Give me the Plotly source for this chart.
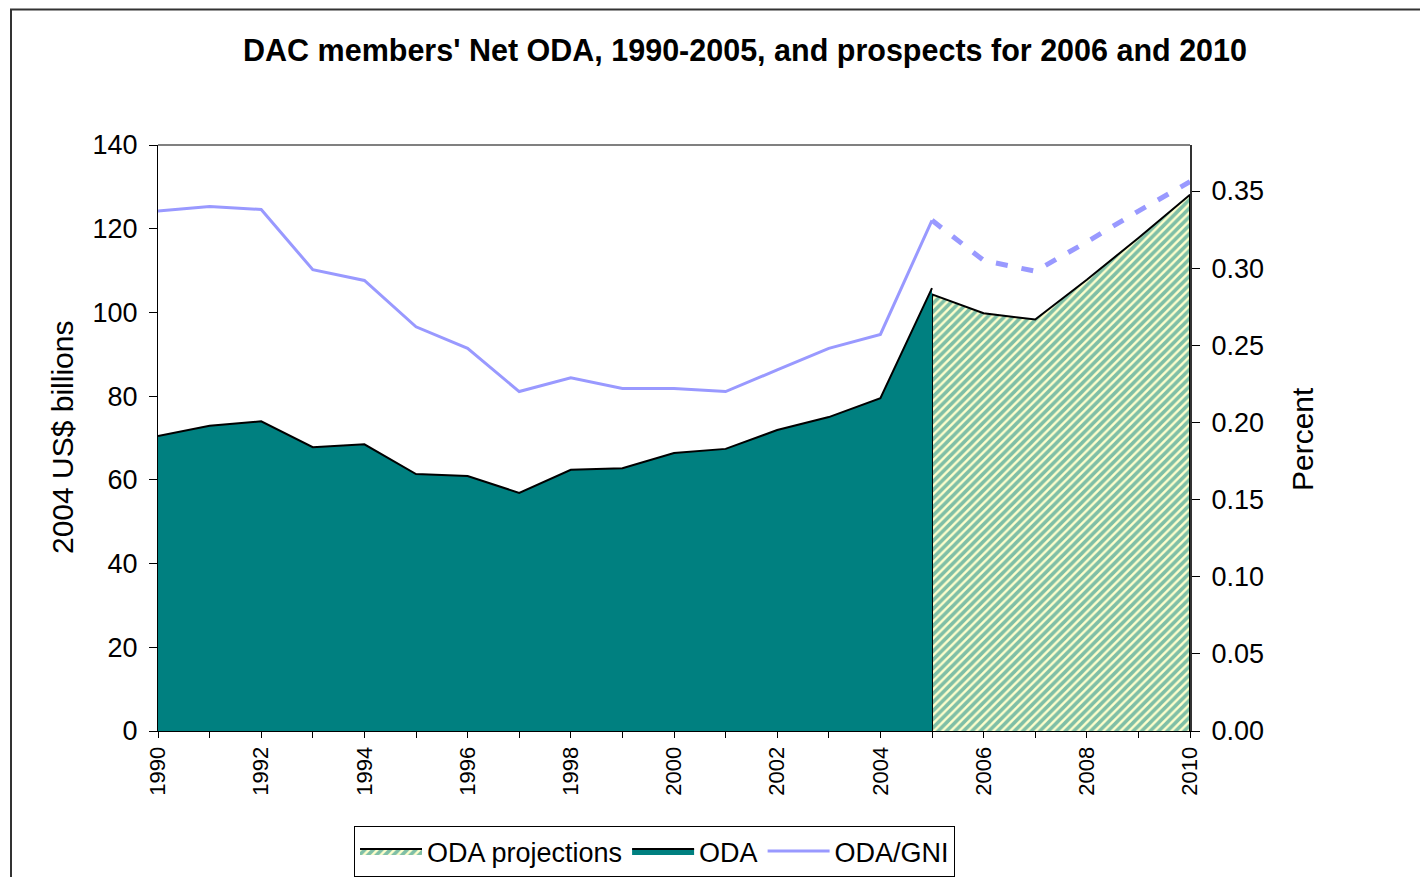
import plotly.graph_objects as go

# ---- data ----
years_oda = list(range(1990, 2006))
oda = [70.5, 72.9, 74.0, 67.8, 68.5, 61.4, 60.9, 56.9, 62.4, 62.8,
       66.4, 67.4, 71.9, 75.0, 79.5, 105.8]

years_proj = [2005, 2006, 2007, 2008, 2009, 2010]
oda_proj = [104.3, 99.8, 98.3, 107.8, 117.8, 128.1]

years_gni = list(range(1990, 2006))
oda_gni = [0.337, 0.340, 0.338, 0.299, 0.292, 0.262, 0.248, 0.220, 0.229, 0.222,
           0.222, 0.220, 0.234, 0.248, 0.257, 0.331]

years_gni_proj = [2005, 2006, 2007, 2008, 2009, 2010]
oda_gni_proj = [0.331, 0.305, 0.298, 0.317, 0.337, 0.356]

x_tick_vals = list(range(1990, 2011, 2))
x_tick_text = [str(v) for v in x_tick_vals]
y2_tick_vals = [0, 0.05, 0.10, 0.15, 0.20, 0.25, 0.30, 0.35]

FONT = "Arial, 'Liberation Sans', sans-serif"
TEAL = "#008080"
LAV = "#9999FF"

# page offset compensation (browser body margin of 8px)
OFF = 8
W, H = 1428 - OFF, 877 - OFF
PL, PR, PT, PB = 158, 1190, 145, 731  # plot area in page pixels
PW, PH = PR - PL, PB - PT


def px_x(x):
    return (x - PL) / PW


def px_y(y):
    return (PB - y) / PH


fig = go.Figure()

# projections (closed polygon so the vertical edge at 2005 is drawn)
poly_x = [years_proj[0]] + years_proj + [years_proj[-1]]
poly_y = [0] + oda_proj + [0]
fig.add_trace(go.Scatter(
    x=poly_x, y=poly_y, name="ODA projections", mode="lines",
    fill="toself", fillcolor="#FFFFCC",
    fillpattern=dict(shape="/", fgcolor=TEAL, bgcolor="#FFFFCC", size=6, solidity=0.6),
    line=dict(color="black", width=2),
    hoverinfo="skip",
))

fig.add_trace(go.Scatter(
    x=years_oda, y=oda, name="ODA", mode="lines",
    fill="tozeroy", fillcolor=TEAL,
    line=dict(color="black", width=2),
))

fig.add_trace(go.Scatter(
    x=years_gni, y=oda_gni, name="ODA/GNI", mode="lines",
    line=dict(color=LAV, width=3), yaxis="y2",
))
fig.add_trace(go.Scatter(
    x=years_gni_proj, y=oda_gni_proj, name="ODA/GNI", mode="lines",
    line=dict(color=LAV, width=5, dash="12px,14px"), yaxis="y2", showlegend=False,
))

fig.update_layout(
    width=W, height=H,
    margin=dict(l=PL - OFF, r=W - (PR - OFF), t=PT - OFF, b=H - (PB - OFF),
                autoexpand=False),
    paper_bgcolor="white", plot_bgcolor="white",
    font=dict(family=FONT, color="black", size=20),
    title=dict(text="<b>DAC members' Net ODA, 1990-2005, and prospects for 2006 and 2010</b>",
               x=(745 - OFF) / W, xanchor="center", xref="container",
               y=1 - (50 - OFF) / H, yanchor="middle", yref="container",
               font=dict(size=30.5, family=FONT)),
    showlegend=True,
    legend=dict(orientation="h", x=px_x(354), xanchor="left",
                y=px_y(826), yanchor="top",
                bordercolor="black", borderwidth=1, bgcolor="white",
                font=dict(size=27, family=FONT), traceorder="normal",
                itemwidth=62),
    xaxis=dict(range=[1990, 2010], tickmode="array", tickvals=x_tick_vals,
               ticktext=x_tick_text, tickangle=-90, ticks="outside", ticklen=6,
               tickcolor="black", showline=True, linecolor="black", linewidth=1,
               showgrid=False, zeroline=False, tickfont=dict(size=22),
               minor=dict(dtick=1, ticks="outside", ticklen=6, tickcolor="black")),
    yaxis=dict(range=[0, 140], dtick=20, ticks="outside", ticklen=8, tickcolor="black",
               showline=True, linecolor="black", linewidth=1, showgrid=False,
               zeroline=False, tickfont=dict(size=27), ticklabelstandoff=6),
    yaxis2=dict(range=[0, 140 * 0.35 / ((PB - 191) / (PH / 140))], overlaying="y", side="right",
                tickmode="array", tickvals=y2_tick_vals,
                tickformat=".2f", ticks="outside", ticklen=8, tickcolor="black",
                showline=True, linecolor="#333333", linewidth=2, showgrid=False,
                zeroline=False, tickfont=dict(size=27), ticklabelstandoff=6),
    annotations=[
        dict(text="2004 US$ billions", xref="paper", yref="paper",
             x=px_x(62), y=px_y(438), textangle=-90, showarrow=False,
             xanchor="center", yanchor="middle", font=dict(size=30)),
        dict(text="Percent", xref="paper", yref="paper",
             x=px_x(1302), y=px_y(439), textangle=-90, showarrow=False,
             xanchor="center", yanchor="middle", font=dict(size=30)),
    ],
    shapes=[
        dict(type="line", xref="paper", yref="paper", x0=0, x1=1, y0=1, y1=1,
             line=dict(color="#808080", width=2)),
        dict(type="rect", xref="paper", yref="paper",
             x0=px_x(11), x1=1.35, y0=-0.35, y1=px_y(OFF + 1.5),
             line=dict(color="#333333", width=2), layer="below"),
    ],
)

fig.write_html("out.html")
